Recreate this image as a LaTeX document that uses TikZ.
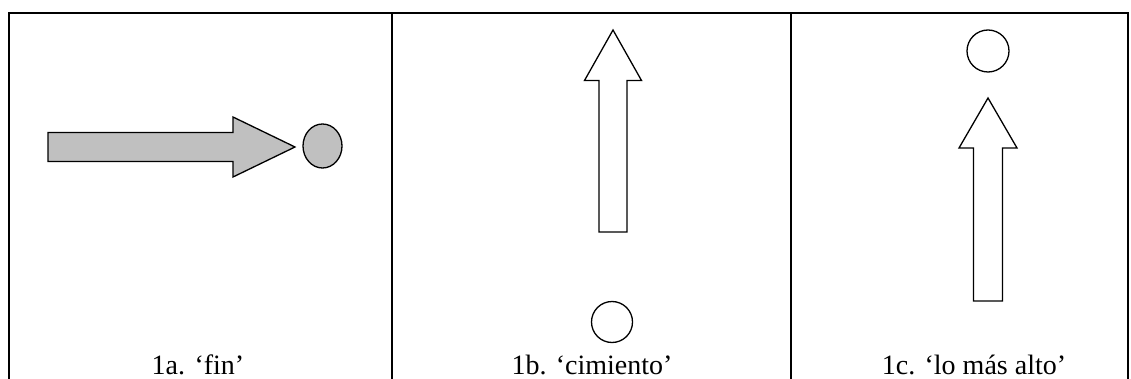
\documentclass[tikz,border=0pt]{standalone}
\usepackage{fontspec}
\setmainfont{Liberation Serif}
\usetikzlibrary{shapes.geometric}
\definecolor{arrowgray}{HTML}{C0C0C0}
\begin{document}
\begin{tikzpicture}[x=1pt,y=-1pt,
  tableline/.style={line width=2pt},
  shapeline/.style={line width=1.3pt, line join=miter},
  caption/.style={anchor=base, font=\fontsize{28}{32}\selectfont, inner sep=0pt},
  dot/.style={draw, line width=1.3pt, ellipse, inner sep=0pt}]
\useasboundingbox (0,0) rectangle (1131,379);
% table
\draw[tableline] (8.5,379) -- (8.5,13) -- (1128,13) -- (1128,379);
\draw[tableline] (392,13) -- (392,379);
\draw[tableline] (791,13) -- (791,379);
% 1a
\draw[shapeline, fill=arrowgray] (48,132.5) -- (233,132.5) -- (233,117) -- (295,147) -- (233,177) -- (233,161.5) -- (48,161.5) -- cycle;
\node[dot, fill=arrowgray, minimum width=39pt, minimum height=44pt] (ca) at (322.5,146) {};
% 1b
\draw[shapeline] (613,30) -- (641.5,80.5) -- (627,80.5) -- (627,232) -- (599,232) -- (599,80.5) -- (584.5,80.5) -- cycle;
\node[dot, minimum width=41pt, minimum height=41pt] (cb) at (612,322) {};
% 1c
\draw[shapeline] (988,98) -- (1017,148) -- (1002.5,148) -- (1002.5,301) -- (973.5,301) -- (973.5,148) -- (959,148) -- cycle;
\node[dot, minimum width=42pt, minimum height=42pt] (cc) at (988,51) {};
% captions
\node[caption] (ta) at (198,374) {1a. ‘fin’};
\node[caption] (tb) at (592,374) {1b. ‘cimiento’};
\node[caption] (tc) at (974,374) {1c. ‘lo más alto’};
\end{tikzpicture}
\end{document}
